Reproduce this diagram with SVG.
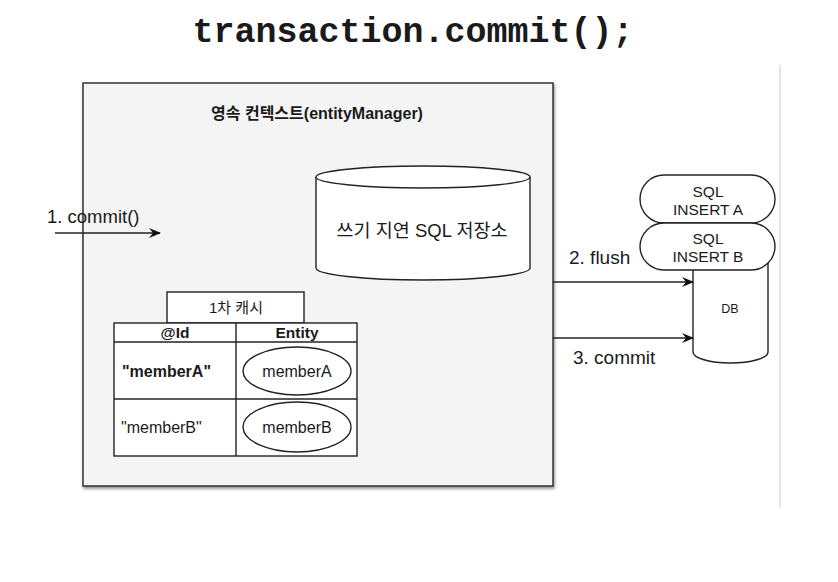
<svg xmlns="http://www.w3.org/2000/svg" width="838" height="582" viewBox="0 0 838 582">
<style>
text{font-family:"Liberation Sans",Arial,sans-serif;fill:#1a1a1a}
.k{font-family:"Liberation Sans","Noto Sans CJK KR",sans-serif}
.ln{fill:none;stroke:#222;stroke-width:1.4}
.sh{fill:#fff;stroke:#222;stroke-width:1.4}
.b{font-weight:bold}
</style>
<defs>
<marker id="ah" viewBox="0 0 12 10" refX="11" refY="5" markerWidth="12" markerHeight="10" markerUnits="userSpaceOnUse" orient="auto">
<path d="M0,0 L12,5 L0,10 L4,5 Z" fill="#111"/>
</marker>
<filter id="ds" x="-5%" y="-5%" width="110%" height="110%">
<feGaussianBlur in="SourceAlpha" stdDeviation="1.5"/>
<feOffset dx="1" dy="2"/>
<feComponentTransfer><feFuncA type="linear" slope="0.45"/></feComponentTransfer>
<feMerge><feMergeNode/><feMergeNode in="SourceGraphic"/></feMerge>
</filter>
</defs>
<rect width="838" height="582" fill="#fff"/>
<line x1="780" y1="65" x2="780" y2="508" stroke="#ddd" stroke-width="1.5"/>
<text x="413" y="42" text-anchor="middle" font-weight="bold" font-size="35" style="font-family:'Liberation Mono','Courier New',monospace">transaction.commit();</text>

<g id="context">
<rect x="83" y="83" width="470" height="403" fill="#f4f4f4" stroke="#333" stroke-width="1.5" filter="url(#ds)"/>
<text class="k b" x="317" y="119" text-anchor="middle" font-size="16">영속 컨텍스트(entityManager)</text>
</g>

<g id="sqlstore">
<path class="sh" d="M316,177 L316,268 A107,12 0 0 0 530,268 L530,177"/>
<ellipse class="sh" cx="423" cy="177" rx="107" ry="11"/>
<text class="k" x="422" y="237" text-anchor="middle" font-size="18.5">쓰기 지연 SQL 저장소</text>
</g>

<g id="cache">
<rect class="sh" x="167" y="292" width="137" height="31"/>
<text class="k" x="236" y="313" text-anchor="middle" font-size="15">1차 캐시</text>
<rect class="sh" x="114" y="323" width="243" height="133"/>
<line class="ln" x1="114" y1="342" x2="357" y2="342"/>
<line class="ln" x1="114" y1="399" x2="357" y2="399"/>
<line class="ln" x1="236" y1="323" x2="236" y2="456"/>
<text class="b" x="175" y="338" text-anchor="middle" font-size="15.5">@Id</text>
<text class="b" x="297" y="338" text-anchor="middle" font-size="15.5">Entity</text>
<text class="b" x="122" y="377" font-size="16">"memberA"</text>
<text x="121" y="433" font-size="16">"memberB"</text>
<ellipse class="sh" cx="297" cy="371" rx="54" ry="24"/>
<text x="297" y="377" text-anchor="middle" font-size="16">memberA</text>
<ellipse class="sh" cx="297" cy="427" rx="54" ry="25"/>
<text x="297" y="433" text-anchor="middle" font-size="16">memberB</text>
</g>

<g id="db">
<path class="sh" d="M693,250 L693,352 A37.5,11 0 0 0 768,352 L768,250 Z"/>
<text x="730" y="313" text-anchor="middle" font-size="12.5">DB</text>
</g>

<g id="insertA">
<rect class="sh" x="640" y="175" width="135" height="48" rx="24" ry="24"/>
<text x="708" y="197" text-anchor="middle" font-size="15.5">SQL</text>
<text x="708" y="215" text-anchor="middle" font-size="15.5">INSERT A</text>
</g>
<g id="insertB">
<rect class="sh" x="640" y="223" width="135" height="47" rx="24" ry="24"/>
<text x="708" y="244" text-anchor="middle" font-size="15.5">SQL</text>
<text x="708" y="262" text-anchor="middle" font-size="15.5">INSERT B</text>
</g>

<g id="connectors">
<line class="ln" x1="55" y1="233" x2="160" y2="233" marker-end="url(#ah)"/>
<line class="ln" x1="553" y1="282" x2="693" y2="282" marker-end="url(#ah)"/>
<line class="ln" x1="553" y1="338" x2="693" y2="338" marker-end="url(#ah)"/>
<text x="47" y="223" font-size="18.5">1. commit()</text>
<text x="569" y="264" font-size="19">2. flush</text>
<text x="573" y="364" font-size="19">3. commit</text>
</g>
</svg>
